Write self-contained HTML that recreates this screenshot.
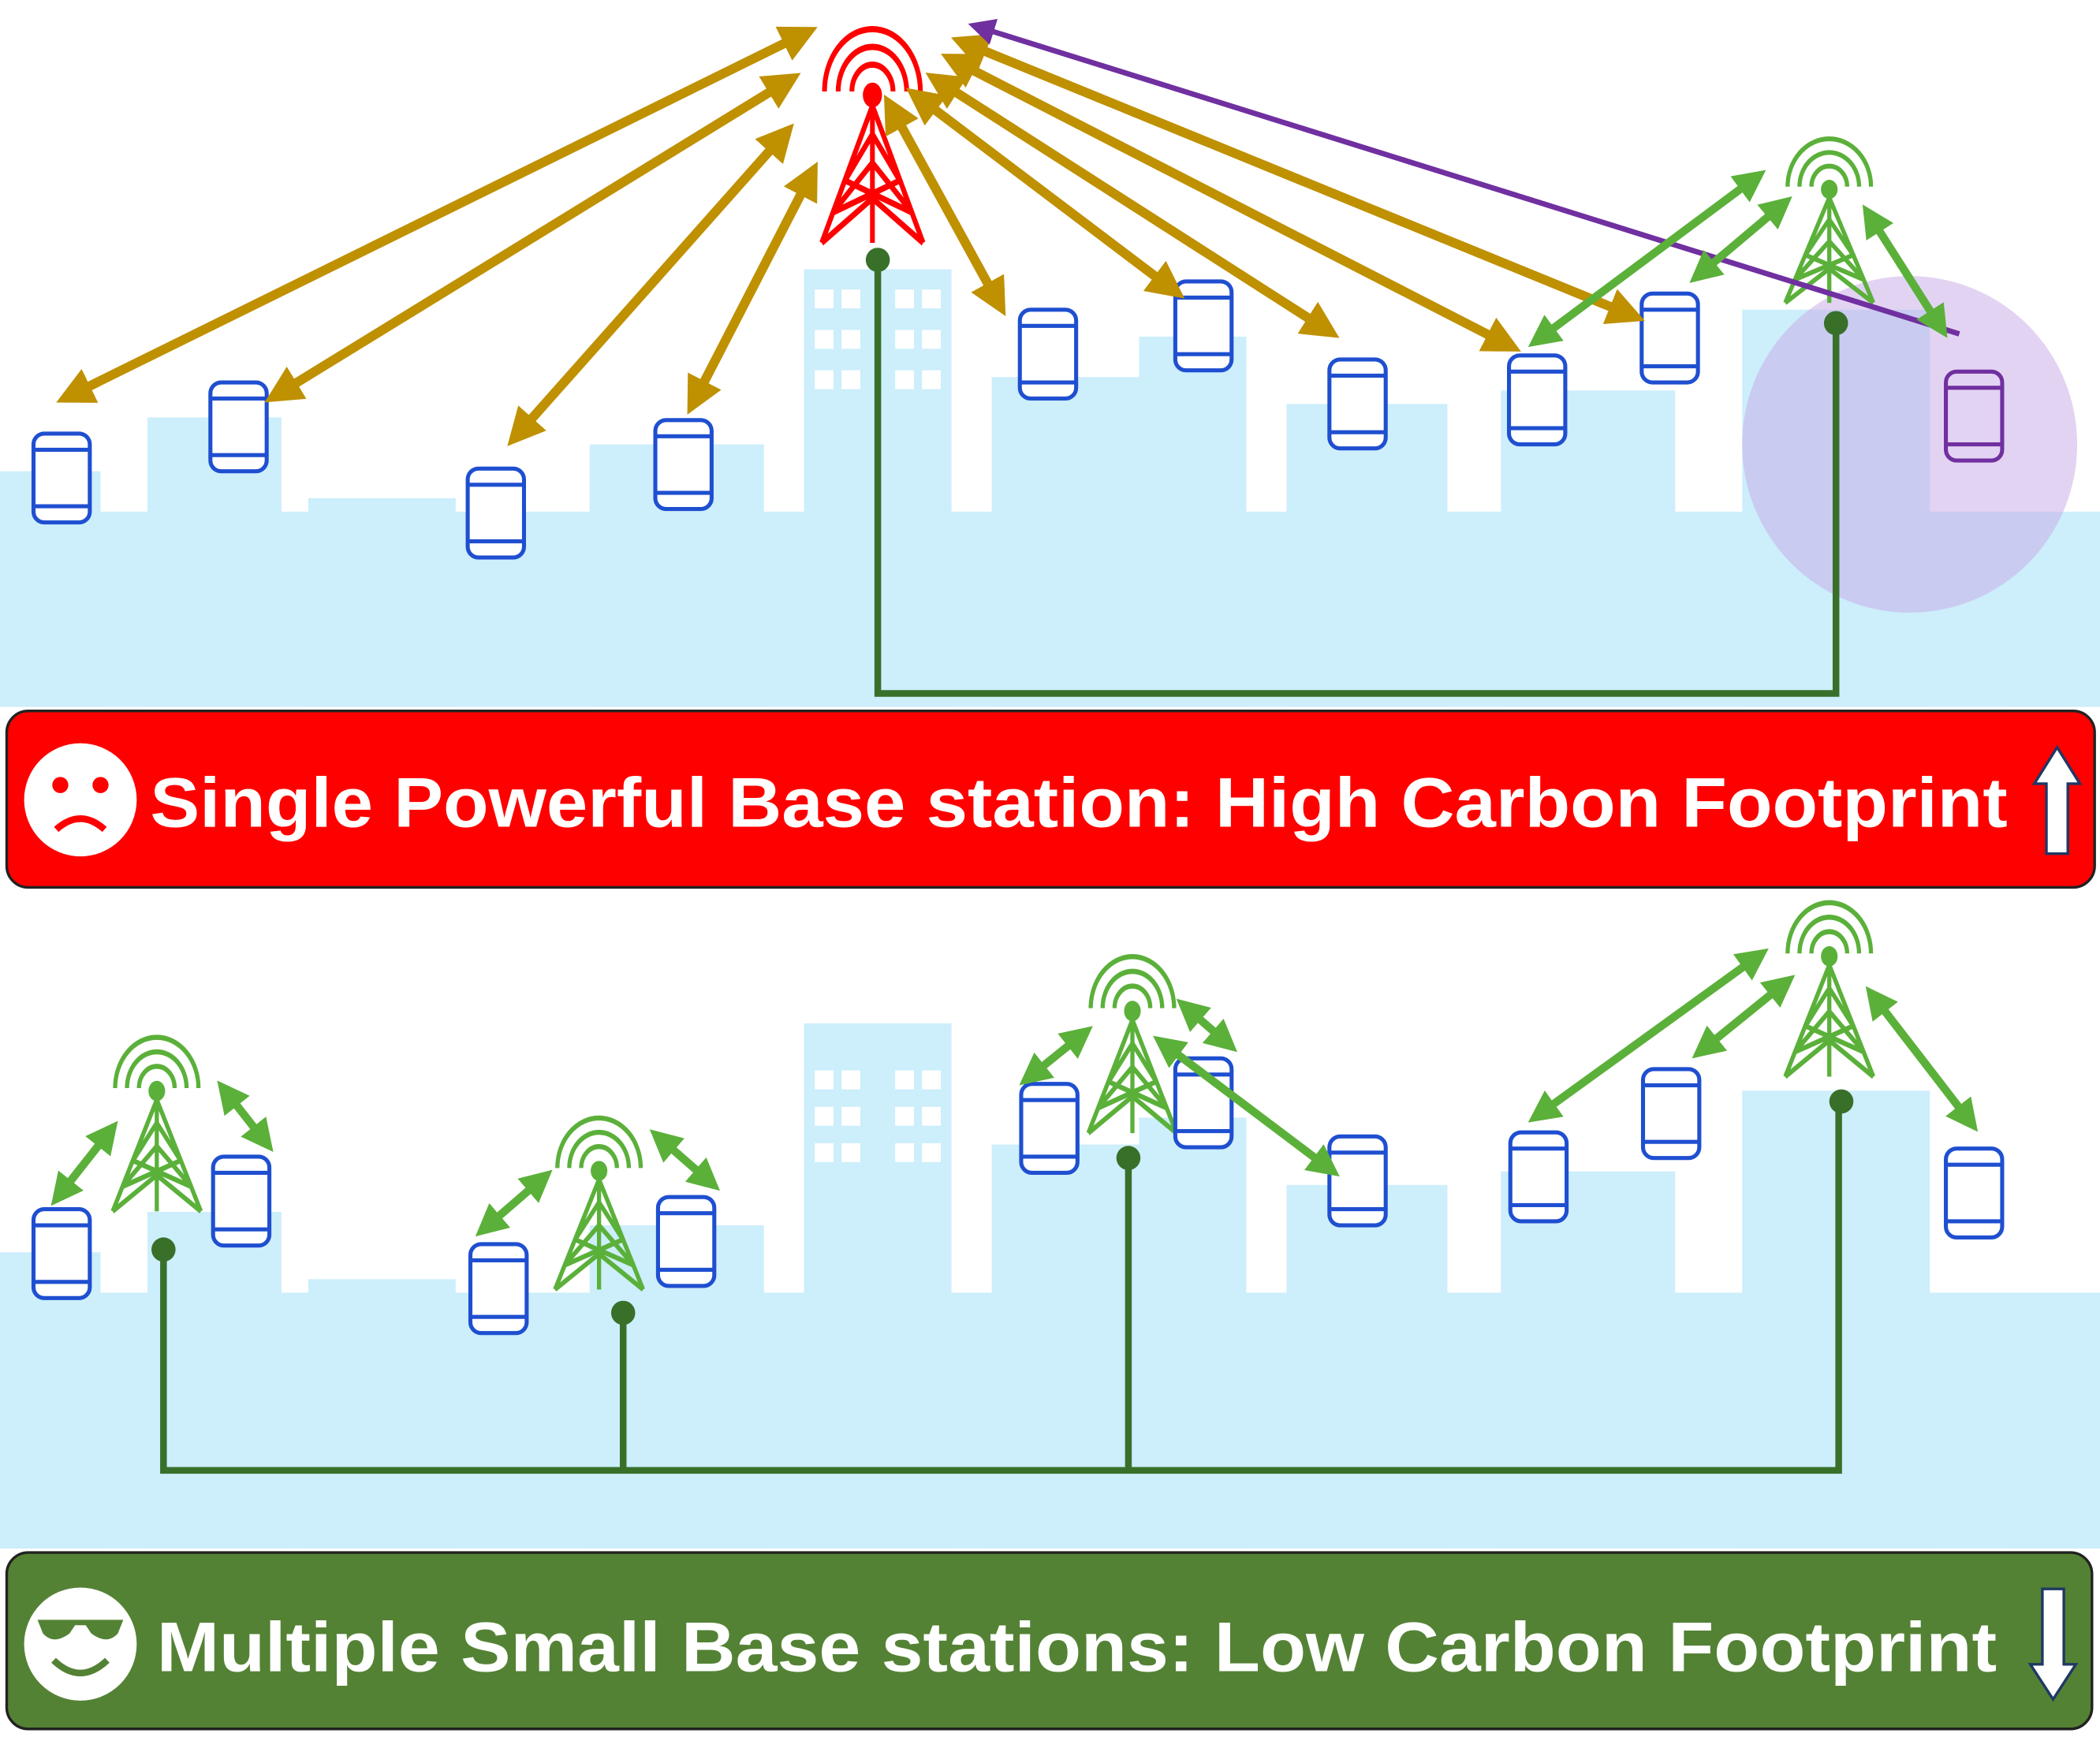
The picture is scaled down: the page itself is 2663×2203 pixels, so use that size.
<!DOCTYPE html>
<html><head><meta charset="utf-8"><style>
html,body{margin:0;padding:0;background:#fff;}
svg{display:block;}
</style></head><body>
<svg width="2663" height="2203" viewBox="0 0 1567 1290" preserveAspectRatio="none" xmlns="http://www.w3.org/2000/svg">
<defs>
<marker id="hg" viewBox="0 0 10 10" refX="6" refY="5" markerWidth="4" markerHeight="4" orient="auto-start-reverse"><path d="M0,0 L10,5 L0,10 z" fill="#bf9000"/></marker>
<marker id="hn" viewBox="0 0 10 10" refX="6" refY="5" markerWidth="4" markerHeight="4" orient="auto-start-reverse"><path d="M0,0 L10,5 L0,10 z" fill="#5bb03a"/></marker>
<marker id="hp" viewBox="0 0 10 10" refX="6" refY="5" markerWidth="5" markerHeight="5" orient="auto-start-reverse"><path d="M0,0 L10,5 L0,10 z" fill="#7030a0"/></marker>
<symbol id="phone" viewBox="0 0 46 70" overflow="visible"><rect x="2" y="2" width="42" height="66" rx="8" fill="#fff" stroke="#1f4fd0" stroke-width="3"/><line x1="2" y1="14" x2="44" y2="14" stroke="#1f4fd0" stroke-width="3"/><line x1="2" y1="56" x2="44" y2="56" stroke="#1f4fd0" stroke-width="3"/></symbol>
<symbol id="tower" viewBox="0 0 90 130" preserveAspectRatio="none" overflow="visible" fill="none">
<path d="M10,40 A35,35 0 0 1 80,40" stroke-width="3.5" stroke="currentColor"/>
<path d="M20,40 A25,25 0 0 1 70,40" stroke-width="3.5" stroke="currentColor"/>
<path d="M30,40 A15,15 0 0 1 60,40" stroke-width="3.5" stroke="currentColor"/>
<circle cx="45" cy="42" r="7" fill="currentColor"/>
<path d="M45,48 L8,125 M45,48 L82,125 M45,48 L45,125 M8,125 L45,100 L82,125 M16,108 L45,80 L74,108 M25,90 L45,64 L65,90 M16,108 L65,90 M74,108 L25,90" stroke="currentColor" stroke-width="3.5"/>
</symbol>
</defs>

<g fill="#cdeefb">
<rect x="0" y="380" width="1567" height="145"/>
<rect x="0" y="350" width="75" height="175"/><rect x="110" y="310" width="100" height="215"/>
<rect x="230" y="370" width="110" height="155"/><rect x="440" y="330" width="130" height="195"/>
<rect x="600" y="200" width="110" height="325"/><rect x="740" y="280" width="120" height="245"/>
<rect x="850" y="250" width="80" height="275"/><rect x="960" y="300" width="120" height="225"/>
<rect x="1120" y="290" width="130" height="235"/><rect x="1300" y="230" width="140" height="295"/>
<rect x="1500" y="430" width="67" height="95"/>
</g>
<g fill="#fff">
<rect x="608" y="215" width="14" height="14"/><rect x="628" y="215" width="14" height="14"/><rect x="668" y="215" width="14" height="14"/><rect x="688" y="215" width="14" height="14"/>
<rect x="608" y="245" width="14" height="14"/><rect x="628" y="245" width="14" height="14"/><rect x="668" y="245" width="14" height="14"/><rect x="688" y="245" width="14" height="14"/>
<rect x="608" y="275" width="14" height="14"/><rect x="628" y="275" width="14" height="14"/><rect x="668" y="275" width="14" height="14"/><rect x="688" y="275" width="14" height="14"/>
</g>
<circle cx="1425" cy="330" r="125" fill="#c8a8e8" opacity="0.5"/>

<g fill="#cdeefb">
<rect x="0" y="960" width="1567" height="190"/>
<rect x="0" y="930" width="75" height="220"/><rect x="110" y="900" width="100" height="250"/>
<rect x="230" y="950" width="110" height="200"/><rect x="440" y="910" width="130" height="240"/>
<rect x="600" y="760" width="110" height="390"/><rect x="740" y="850" width="120" height="300"/>
<rect x="850" y="830" width="80" height="320"/><rect x="960" y="880" width="120" height="270"/>
<rect x="1120" y="870" width="130" height="280"/><rect x="1300" y="810" width="140" height="340"/>
<rect x="1500" y="1010" width="67" height="140"/>
</g>
<g fill="#fff">
<rect x="608" y="795" width="14" height="14"/><rect x="628" y="795" width="14" height="14"/><rect x="668" y="795" width="14" height="14"/><rect x="688" y="795" width="14" height="14"/>
<rect x="608" y="822" width="14" height="14"/><rect x="628" y="822" width="14" height="14"/><rect x="668" y="822" width="14" height="14"/><rect x="688" y="822" width="14" height="14"/>
<rect x="608" y="849" width="14" height="14"/><rect x="628" y="849" width="14" height="14"/><rect x="668" y="849" width="14" height="14"/><rect x="688" y="849" width="14" height="14"/>
</g>

<path d="M655,195 V515 H1370 V240" fill="none" stroke="#38702a" stroke-width="5"/>
<circle cx="655" cy="193" r="9" fill="#38702a"/><circle cx="1370" cy="240" r="9" fill="#38702a"/>

<g color="#ff0000"><use href="#tower" x="605" y="15" width="92" height="172"/></g>
<g color="#5bb03a"><use href="#tower" x="1325" y="98" width="80" height="132"/></g>

<g>
<use href="#phone" x="23" y="320" width="46" height="70"/><use href="#phone" x="155" y="282" width="46" height="70"/>
<use href="#phone" x="347" y="346" width="46" height="70"/><use href="#phone" x="487" y="310" width="46" height="70"/>
<use href="#phone" x="759" y="228" width="46" height="70"/><use href="#phone" x="875" y="207" width="46" height="70"/>
<use href="#phone" x="990" y="265" width="46" height="70"/><use href="#phone" x="1124" y="262" width="46" height="70"/>
<use href="#phone" x="1223" y="216" width="46" height="70"/>
</g>
<g><rect x="1452" y="276" width="42" height="66" rx="8" fill="none" stroke="#7030a0" stroke-width="3"/><line x1="1452" y1="288" x2="1494" y2="288" stroke="#7030a0" stroke-width="3"/><line x1="1452" y1="330" x2="1494" y2="330" stroke="#7030a0" stroke-width="3"/></g>

<g stroke="#bf9000" stroke-width="7" marker-start="url(#hg)" marker-end="url(#hg)">
<line x1="600" y1="25" x2="52" y2="294"/><line x1="588" y1="60" x2="207" y2="293"/>
<line x1="585" y1="100" x2="386" y2="323"/><line x1="605" y1="130" x2="518" y2="298"/>
<line x1="665" y1="80" x2="745" y2="225"/><line x1="685" y1="72" x2="875" y2="215"/>
<line x1="700" y1="60" x2="990" y2="245"/><line x1="712" y1="45" x2="1125" y2="256"/>
<line x1="720" y1="32" x2="1217" y2="234"/>
</g>
<line x1="730" y1="20" x2="1462" y2="248" stroke="#7030a0" stroke-width="4" marker-start="url(#hp)"/>
<g stroke="#5bb03a" stroke-width="6" marker-start="url(#hn)" marker-end="url(#hn)">
<line x1="1310" y1="132" x2="1148" y2="252"/><line x1="1330" y1="152" x2="1268" y2="204"/><line x1="1395" y1="160" x2="1448" y2="243"/>
</g>

<g>
<rect x="5" y="528" width="1558" height="131" rx="16" fill="#ff0000" stroke="#222" stroke-width="2"/>
<circle cx="60" cy="594" r="42" fill="#fff"/>
<circle cx="45" cy="583" r="6" fill="#ff0000"/><circle cx="75" cy="583" r="6" fill="#ff0000"/>
<path d="M42,616 Q60,600 78,616" stroke="#ff0000" stroke-width="5" fill="none"/>
<text x="112" y="614" font-family="Liberation Sans, sans-serif" font-weight="bold" font-size="52" fill="#fff" textLength="1386" lengthAdjust="spacingAndGlyphs">Single Powerful Base station: High Carbon Footprint</text>
<path d="M1535,555 L1552,582 L1543,582 L1543,634 L1527,634 L1527,582 L1518,582 Z" fill="#fff" stroke="#1f3864" stroke-width="2"/>
</g>

<path d="M122,928 V1092 H1372 V818 M465,975 V1092 M842,860 V1092" fill="none" stroke="#38702a" stroke-width="5"/>
<g fill="#38702a"><circle cx="122" cy="928" r="9"/><circle cx="465" cy="975" r="9"/><circle cx="842" cy="860" r="9"/><circle cx="1374" cy="818" r="9"/></g>

<g color="#5bb03a">
<use href="#tower" x="77" y="765" width="80" height="140"/>
<use href="#tower" x="407" y="825" width="80" height="138"/>
<use href="#tower" x="805" y="705" width="80" height="142"/>
<use href="#tower" x="1325" y="665" width="80" height="140"/>
</g>
<g>
<use href="#phone" x="23" y="896" width="46" height="70"/><use href="#phone" x="157" y="857" width="46" height="70"/>
<use href="#phone" x="349" y="922" width="46" height="70"/><use href="#phone" x="489" y="887" width="46" height="70"/>
<use href="#phone" x="760" y="803" width="46" height="70"/><use href="#phone" x="875" y="784" width="46" height="70"/>
<use href="#phone" x="990" y="842" width="46" height="70"/><use href="#phone" x="1125" y="839" width="46" height="70"/>
<use href="#phone" x="1224" y="792" width="46" height="70"/><use href="#phone" x="1450" y="851" width="46" height="70"/>
</g>
<g stroke="#5bb03a" stroke-width="6" marker-start="url(#hn)" marker-end="url(#hn)">
<line x1="82" y1="840" x2="44" y2="888"/><line x1="168" y1="810" x2="198" y2="848"/>
<line x1="405" y1="875" x2="362" y2="912"/><line x1="492" y1="845" x2="530" y2="878"/>
<line x1="808" y1="768" x2="768" y2="800"/><line x1="885" y1="748" x2="916" y2="775"/>
<line x1="868" y1="775" x2="992" y2="868"/>
<line x1="1312" y1="710" x2="1148" y2="828"/><line x1="1332" y1="730" x2="1270" y2="780"/><line x1="1398" y1="740" x2="1470" y2="833"/>
</g>

<g>
<rect x="5" y="1153" width="1556" height="131" rx="16" fill="#548235" stroke="#222" stroke-width="2"/>
<circle cx="60" cy="1221" r="42" fill="#fff"/>
<path d="M28,1203 H92 L88,1213 Q80,1222 68,1213 L64,1207 H56 L52,1213 Q40,1222 32,1213 Z" fill="#548235"/>
<path d="M40,1233 Q60,1252 80,1233" stroke="#548235" stroke-width="5" fill="none"/>
<text x="117" y="1241" font-family="Liberation Sans, sans-serif" font-weight="bold" font-size="52" fill="#fff" textLength="1373" lengthAdjust="spacingAndGlyphs">Multiple Small Base stations: Low Carbon Footprint</text>
<path d="M1524,1180 L1540,1180 L1540,1236 L1549,1236 L1532,1262 L1515,1236 L1524,1236 Z" fill="#fff" stroke="#1f3864" stroke-width="2"/>
</g>
</svg>
</body></html>
